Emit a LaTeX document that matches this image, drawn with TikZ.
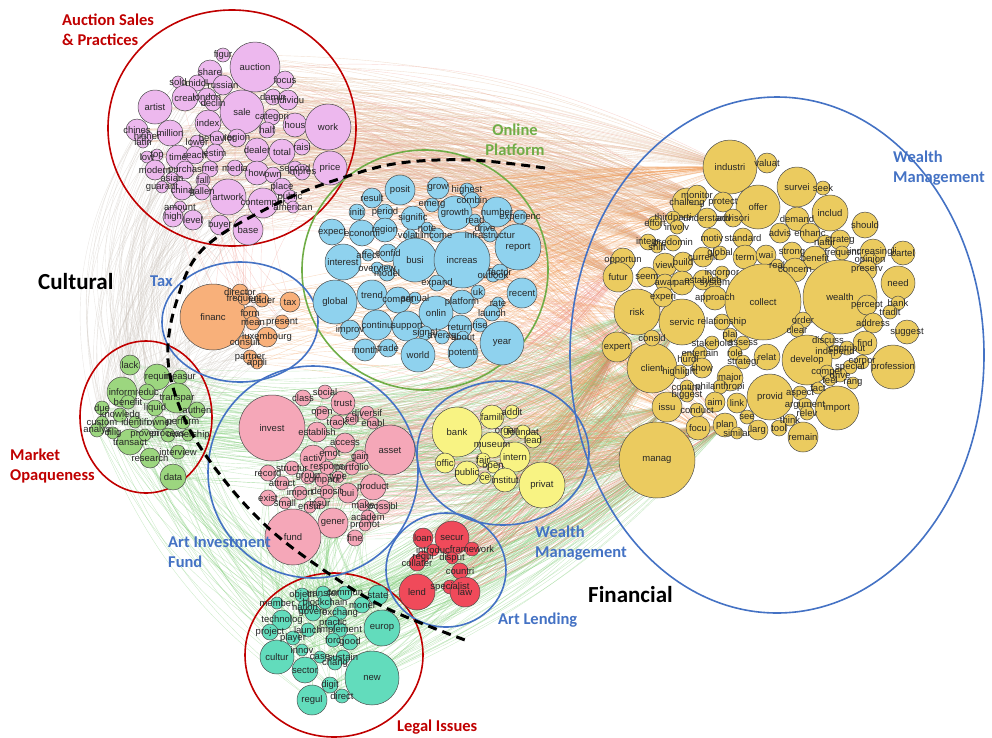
\documentclass[tikz,border=0pt]{standalone}
\usepackage{fontspec}
\setmainfont{Liberation Sans}
\newfontfamily\titlefont{Carlito}
\newfontfamily\wordfont{Liberation Sans}
\pgfdeclarelayer{edgelayer}
\pgfdeclarelayer{wordlayer}
\pgfsetlayers{edgelayer,main,wordlayer}

\definecolor{cauction}{HTML}{EDB8EE}
\definecolor{cplatform}{HTML}{8FD2EE}
\definecolor{cwealth}{HTML}{EBCB5F}
\definecolor{ctax}{HTML}{F8B07A}
\definecolor{cmarket}{HTML}{9CD67F}
\definecolor{cfund}{HTML}{F5A7B8}
\definecolor{cbank}{HTML}{F8F383}
\definecolor{clend}{HTML}{F04A5A}
\definecolor{clegal}{HTML}{62DCBC}
\definecolor{tred}{HTML}{C00000}
\definecolor{tblue}{HTML}{4472C4}
\definecolor{tgreen}{HTML}{70AD47}
\definecolor{etan}{HTML}{DDB08A}
\definecolor{eorange}{HTML}{F0A060}
\definecolor{egreen}{HTML}{7DCB75}
\definecolor{epink}{HTML}{EE9A90}
\definecolor{ered}{HTML}{EE7060}
\definecolor{egray}{HTML}{C8C0B8}

\tikzset{
  bub/.style={circle, draw=black!70, line width=0.5pt, inner sep=0pt},
  word/.style={font=\wordfont\fontsize{9.5}{9.5}\selectfont, inner sep=0pt, text=black!85},
  ring/.style={line width=1.6pt},
  title/.style={font=\titlefont\bfseries\fontsize{16.5}{19.5}\selectfont, align=left, inner sep=0pt},
  bigtitle/.style={font=\titlefont\bfseries\fontsize{23}{26}\selectfont, inner sep=0pt},
  edge/.style={line width=0.4pt, draw opacity=0.38},
  divider/.style={line width=3pt, dash pattern=on 9pt off 6pt, line cap=butt}
}

% bubble lists: x/y/radius/word
\def\auctionlist{223/55/7/figur, 255/67/25/auction, 210/72/12/share, 285/80/9/focus, 178/82/6/sold,
197/83/8/middl, 223/85/10/russian, 155/107/17/artist, 185/98/13/creat, 207/97/9/london,
213/103/8/declin, 242/112/22/sale, 273/97/8/damin, 288/100/10/individu, 272/117/8/categori,
295/125/12/hous, 328/127/23/work, 208/123/13/index, 137/130/11/chines, 170/133/13/million,
147/137/6/higher, 143/142/6/latin, 267/130/8/half, 217/138/7/behavior, 237/138/9/region,
197/142/7/lower, 257/150/12/dealer, 282/152/13/total, 302/147/8/raisi, 157/155/6/top,
147/157/6/low, 178/157/12/time, 195/155/9/reach, 215/153/9/estim, 155/170/10/modern,
185/170/9/purchas, 210/169/8/mer, 235/168/8/media, 257/173/12/how, 273/175/8/own,
295/168/7/second, 302/172/8/impres, 330/168/17/price, 172/178/6/asian, 203/180/7/fall,
162/187/6/guarant, 182/190/10/china, 202/192/8/gallen, 228/197/18/artwork, 263/203/15/contempor,
282/187/9/place, 290/197/7/public, 293/207/6/american, 180/207/6/amount, 173/217/10/high,
193/220/10/level, 220/225/10/buyer, 248/230/15/base}

\def\platformlist{400/190/15/posit, 438/188/11/grow, 467/190/7/highest, 472/200/8/combin, 372/198/10/result,
357/212/8/initi, 385/212/8/period, 432/205/7/emerg, 455/213/17/growth, 497/212/15/number,
520/217/7/experienc, 413/218/12/signific, 475/220/6/read, 332/232/13/expect, 362/233/13/economi,
385/230/12/region, 427/228/6/note, 410/235/6/volatil, 437/235/7/income, 485/228/6/drive,
490/235/7/infrastructur, 518/247/23/report, 343/262/18/interest, 368/255/6/affect, 388/253/9/confid,
415/260/22/busi, 462/260/28/increas, 377/268/6/overview, 387/273/8/model, 493/275/7/outlook,
500/272/8/factor, 437/283/8/expand, 335/302/22/global, 372/295/15/trend, 398/300/13/compet,
415/298/6/annual, 478/292/7/uk, 522/293/15/recent, 498/303/6/rate, 462/302/12/platform,
436/313/17/onlin, 492/313/8/launch, 377/325/15/continu, 407/326/15/support, 460/327/12/return,
480/325/7/rise, 350/330/10/improv, 425/333/7/signal, 442/337/7/averag, 463/337/6/about,
365/350/11/month, 388/348/9/trade, 418/355/17/world, 463/353/15/potenti, 502/343/22/year}

\def\wealthlist{730/167/27/industri, 687/203/15/challeng, 697/195/10/monitor, 673/218/7/thirdparti,
655/223/7/effort, 648/242/8/integr, 623/260/12/opportun, 618/277/15/futur, 637/312/23/risk,
617/347/15/expert, 652/368/25/client, 667/407/15/issu, 657/460/38/manag, 698/428/12/focu,
725/425/12/plan, 682/322/23/servic,
767/163/10/valuat, 797/187/20/survei, 823/188/7/seek, 723/202/10/protect, 758/207/22/offer,
830/213/18/includ, 707/218/10/understand, 733/218/9/advisori, 797/219/12/demand, 865/225/13/should,
677/227/7/involv, 780/233/10/advis, 810/233/10/enhanc, 825/242/7/natur, 840/240/10/strateg,
673/243/8/predomin, 712/238/10/motiv, 743/238/10/standard, 657/247/6/shift, 873/252/13/increasingli,
903/253/12/cartel, 870/260/7/opinion, 665/265/12/view, 683/262/10/build, 703/257/10/current,
720/253/7/global, 745/257/12/term, 766/255/10/wai, 792/252/10/strong, 815/258/12/benefit,
842/253/7/frequent, 777/265/6/real, 795/270/12/concern, 867/270/10/preserv, 647/277/10/seem,
665/283/9/awar, 682/283/12/part, 703/280/10/establish, 722/273/7/incorpor, 715/283/6/system,
898/283/17/need, 663/297/10/experi, 715/298/12/approach, 763/302/38/collect, 840/297/37/wealth,
867/305/10/percept, 898/303/7/bank, 890/312/7/tradit, 722/322/8/relationship, 803/320/8/order,
873/323/10/address, 907/332/12/suggest, 797/330/7/clear, 652/338/8/consid, 730/335/7/plai,
743/343/7/assess, 712/343/7/stakehold, 700/353/7/entertain, 735/353/7/role, 828/340/7/discuss,
865/343/12/find, 835/352/7/independ, 847/348/7/contribut, 688/359/7/hurdl, 743/362/7/strategi,
767/357/13/relat, 807/360/25/develop, 893/367/22/profession, 680/372/7/highlight, 702/368/10/show,
730/378/13/major, 862/362/7/corpor, 827/372/7/compet, 850/367/7/special, 840/375/7/drive,
830/380/6/feel, 853/383/6/rang, 687/387/7/continu, 720/387/7/philanthropi, 687/395/7/biggest,
697/410/7/conduct, 715/402/10/aim, 737/403/10/link, 770/397/23/provid, 800/393/7/aspect,
818/388/6/fact, 805/405/7/argument, 807/413/7/relev, 837/408/22/import, 747/417/7/see,
790/420/6/think, 737/433/6/similar, 758/430/10/larg, 779/428/8/tool, 803/437/15/remain}

\def\taxlist{213/317/33/financ, 240/292/8/director, 244/299/6/frequent, 262/300/7/leader, 290/302/10/tax,
250/313/7/form, 253/323/7/mean, 282/322/7/present, 267/337/10/luxembourg, 245/342/7/consult,
250/357/7/partner, 257/363/6/appli}

\def\marketlist{130/365/10/lack, 157/377/13/requir, 180/377/7/measur, 122/392/15/inform, 147/392/8/reduc,
177/398/15/transpar, 128/402/7/benefit, 155/408/8/liquid, 102/408/7/due, 197/410/8/authen,
120/415/7/knowledg, 102/422/6/custom, 135/422/6/identifi, 160/423/7/owner, 183/422/7/perform,
97/430/7/analys, 113/433/6/dilig, 130/442/13/transact, 145/435/6/proven, 168/435/7/process,
188/435/6/ownership, 150/458/10/research, 178/452/7/interview, 173/477/13/data}

\def\fundlist{325/392/7/social, 303/398/8/class, 343/403/12/trust, 322/413/7/open, 367/413/7/diversif,
337/422/7/track, 352/419/6/sell, 373/423/6/enabl, 272/428/33/invest, 317/432/10/establish,
345/443/10/access, 330/453/7/emot, 390/450/25/asset, 313/458/13/activ, 360/457/7/gain,
292/468/7/structur, 327/468/7/respons, 352/468/7/portfolio, 268/473/8/record, 308/477/7/group,
322/480/7/compani, 338/477/6/type, 282/483/7/attract, 373/487/13/product, 300/493/7/import,
268/498/8/exist, 327/492/7/deposit, 348/493/10/bui, 285/503/6/small, 310/507/6/ensur,
320/503/6/insur, 363/505/6/make, 383/507/7/possibl, 368/517/7/academ, 365/525/6/promot,
333/523/15/gener, 355/538/8/fine, 293/537/28/fund}

\def\banklist{457/432/25/bank, 492/417/12/famili, 512/412/7/addit, 507/432/6/organ, 523/432/7/foundat,
533/440/8/lead, 492/445/13/museum, 515/457/15/intern, 483/460/7/fair, 493/467/6/open,
445/463/10/offic, 467/473/12/public, 485/478/6/ce, 505/480/12/institut, 542/485/23/privat}

\def\lendlist{423/538/10/loan, 452/538/17/secur, 433/550/6/introduc, 472/549/7/framework, 423/557/6/regul,
452/558/6/disput, 417/563/8/collater, 460/571/8/countri, 417/592/18/lend, 450/587/7/specialist,
465/592/15/law}

\def\legallist{302/595/7/object, 323/593/7/transfer, 345/593/7/commun, 378/595/10/state, 277/603/6/member,
305/607/7/nation, 325/602/7/blockchain, 362/605/8/monei, 313/613/8/govern, 340/613/7/exchang,
282/620/10/technolog, 333/623/7/practic, 308/630/7/launch, 340/630/7/implement, 382/628/18/europ,
270/632/8/project, 293/638/7/player, 333/640/7/forc, 350/642/8/good, 277/657/17/cultur,
302/650/6/innov, 320/657/6/case, 343/657/7/sustain, 335/663/7/chang, 305/670/13/sector,
372/678/27/new, 330/685/8/digit, 342/696/7/direct, 312/700/15/regul}

% draw the bubbles of one cluster and remember how many there are
\newcommand\bubbleset[3]{%
  \foreach \x/\y/\r/\t [count=\i] in #3 {%
    \node[bub, fill=#2, minimum size=\r*2pt] (#1\i) at (\x,\y) {};
    \expandafter\xdef\csname count#1\endcsname{\i}%
  }%
}
\newcommand\wordset[2]{%
  \foreach \x/\y/\r/\t [count=\i] in #2 {%
    \node[word] (#1w\i) at (\x,\y) {\t};
  }%
}
% links from every bubble of #1 to #3 bubbles of #4, index mod(.,#5)+#6
\newcommand\edgeset[7]{%
  \pgfmathtruncatemacro\edgen{\csname count#1\endcsname}%
  \foreach \i in {1,...,\edgen} {%
    \foreach \k in {1,...,#3} {%
      \pgfmathtruncatemacro\j{mod(\i*5+\k*7,#5)+#6}%
      \draw[edge, draw=#2] (#1\i) to[#7] (#4\j);
    }%
  }%
}

\begin{document}
\begin{tikzpicture}[x=1pt, y=-1pt]
\useasboundingbox (0,0) rectangle (992,737);

% cluster outlines
\draw[ring, tred] (232,128) ellipse [x radius=124pt, y radius=118pt];
\draw[ring, tred] (146,417) ellipse [x radius=66pt, y radius=76pt];
\draw[ring, tred] (334,655) ellipse [x radius=89pt, y radius=82pt];
\draw[ring, tgreen] (425,270) ellipse [x radius=123pt, y radius=120pt];
\draw[ring, tblue] (240,322) ellipse [x radius=78pt, y radius=60pt];
\draw[ring, tblue] (313,472) ellipse [x radius=105pt, y radius=106pt];
\draw[ring, tblue] (503,453) ellipse [x radius=86pt, y radius=72pt];
\draw[ring, tblue] (446,570) ellipse [x radius=60pt, y radius=57pt];
\draw[ring, tblue] (777,355) ellipse [x radius=207pt, y radius=258pt];

% bubbles
\bubbleset{A}{cauction}{\auctionlist}
\bubbleset{P}{cplatform}{\platformlist}
\bubbleset{W}{cwealth}{\wealthlist}
\bubbleset{T}{ctax}{\taxlist}
\bubbleset{M}{cmarket}{\marketlist}
\bubbleset{F}{cfund}{\fundlist}
\bubbleset{S}{cbank}{\banklist}
\bubbleset{R}{clend}{\lendlist}
\bubbleset{L}{clegal}{\legallist}

% words on top of all bubbles
\begin{pgfonlayer}{wordlayer}
\wordset{A}{\auctionlist}
\wordset{P}{\platformlist}
\wordset{W}{\wealthlist}
\wordset{T}{\taxlist}
\wordset{M}{\marketlist}
\wordset{F}{\fundlist}
\wordset{S}{\banklist}
\wordset{R}{\lendlist}
\wordset{L}{\legallist}
\draw[divider] plot[smooth, tension=0.6] coordinates {(545,168) (470,160) (400,163) (345,177) (280,202)
  (205,247) (177,300) (168,360) (185,420) (218,472) (262,522) (312,562) (382,606) (465,640)};
\end{pgfonlayer}

% co-occurrence links behind the bubbles
\begin{pgfonlayer}{edgelayer}
\edgeset{A}{etan}{5}{W}{8}{1}{bend left=12}
\edgeset{A}{epink}{1}{W}{16}{1}{bend left=18}
\edgeset{P}{eorange}{4}{W}{16}{1}{bend left=6}
\edgeset{L}{egreen}{6}{W}{8}{9}{bend right=12}
\edgeset{M}{egreen}{5}{W}{8}{9}{bend right=10}
\edgeset{F}{epink}{5}{W}{10}{7}{bend right=8}
\edgeset{F}{egreen}{2}{W}{8}{9}{bend right=14}
\edgeset{S}{eorange}{6}{W}{8}{9}{bend right=8}
\edgeset{R}{ered}{6}{W}{8}{9}{bend right=10}
\edgeset{T}{eorange}{4}{W}{10}{5}{bend left=6}
\edgeset{T}{epink}{2}{A}{50}{1}{bend left=10}
\edgeset{A}{egray}{2}{M}{24}{1}{bend right=28}
\edgeset{L}{egreen}{3}{F}{38}{1}{bend left=10}
\edgeset{L}{egreen}{2}{M}{24}{1}{bend left=15}
\edgeset{M}{egray}{2}{T}{12}{1}{bend left=8}
\foreach \j in {1,...,12} {\draw[line width=0.9pt, draw=eorange, draw opacity=0.5] (W1) to[bend right=4] (P\j);}
\end{pgfonlayer}

% cluster titles
\node[title, text=tred, anchor=west] (tauction) at (62,30) {Auction Sales\\\& Practices};
\node[title, text=tgreen, align=center] (tplatform) at (515,140) {Online\\Platform};
\node[title, text=tblue, anchor=west] (twealth) at (893,168) {Wealth\\Management};
\node[title, text=tblue, anchor=west] (ttax) at (150,281) {Tax};
\node[title, text=tred, anchor=west] (tmarket) at (10,466) {Market\\Opaqueness};
\node[title, text=tblue, anchor=west] (tfund) at (168,552) {Art Investment\\Fund};
\node[title, text=tblue, anchor=west] (tbank) at (535,543) {Wealth\\Management};
\node[title, text=tblue, anchor=west] (tlend) at (498,620) {Art Lending};
\node[title, text=tred, anchor=west] (tlegal) at (397,727) {Legal Issues};
\node[bigtitle, anchor=west] (tcultural) at (38,282) {Cultural};
\node[bigtitle, anchor=west] (tfinancial) at (588,595) {Financial};
\end{tikzpicture}
\end{document}
